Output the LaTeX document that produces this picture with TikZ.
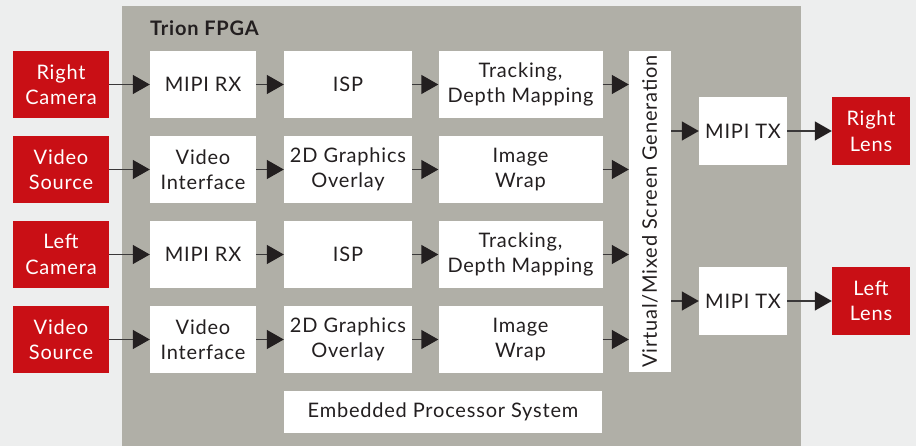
\documentclass[tikz,border=0pt]{standalone}
\usepackage{fontspec}
\setmainfont{Lato}[LetterSpace=4]
\usetikzlibrary{arrows.meta}
\definecolor{pagebg}{HTML}{EDEEEE}
\definecolor{fpga}{HTML}{B0AFA7}
\definecolor{ioRed}{HTML}{C90F15}
\definecolor{ink}{HTML}{231F20}
\definecolor{wire}{HTML}{3A3839}
\tikzset{
  blk/.style={fill=white, draw=none, align=center, inner sep=0pt,
    font=\fontsize{20}{25.5}\selectfont, text=ink},
  io/.style={fill=ioRed, draw=none, align=center, inner sep=0pt,
    font=\fontsize{20}{25.5}\selectfont, text=white,
    minimum width=96pt, minimum height=67pt},
  flow/.style={draw=wire, line width=1.4pt,
    -{Triangle[length=17pt,width=19pt,fill=ink,color=ink]}},
}
\begin{document}
\begin{tikzpicture}[x=1pt,y=-1pt]
  % canvas and FPGA region
  \fill[pagebg] (0,0) rectangle (916,446);
  \useasboundingbox (0,0) rectangle (916,446);
  \fill[fpga] (122,6) rectangle (801,446);
  \node[anchor=base west, inner sep=0pt, font=\fontsize{20}{22}\selectfont\bfseries, text=ink] (title) at (150,36) {Trion FPGA};

  % four input rows
  \node[io] (in1) at (61,84.5) {Right\\Camera};
  \node[io] (in2) at (61,169.5) {Video\\Source};
  \node[io] (in3) at (61,254.5) {Left\\Camera};
  \node[io] (in4) at (61,339.5) {Video\\Source};

  \node[blk, minimum width=106pt, minimum height=67pt] (a1) at (203,84.5) {MIPI RX};
  \node[blk, minimum width=106pt, minimum height=67pt] (a2) at (203,169.5) {Video\\Interface};
  \node[blk, minimum width=106pt, minimum height=67pt] (a3) at (203,254.5) {MIPI RX};
  \node[blk, minimum width=106pt, minimum height=67pt] (a4) at (203,339.5) {Video\\Interface};

  \node[blk, minimum width=128pt, minimum height=67pt] (b1) at (348,84.5) {ISP};
  \node[blk, minimum width=128pt, minimum height=67pt] (b2) at (348,169.5) {2D Graphics\\Overlay};
  \node[blk, minimum width=128pt, minimum height=67pt] (b3) at (348,254.5) {ISP};
  \node[blk, minimum width=128pt, minimum height=67pt] (b4) at (348,339.5) {2D Graphics\\Overlay};

  \node[blk, minimum width=164pt, minimum height=67pt] (c1) at (520.5,84.5) {Tracking,\\Depth Mapping};
  \node[blk, minimum width=164pt, minimum height=67pt] (c2) at (520.5,169.5) {Image\\Wrap};
  \node[blk, minimum width=164pt, minimum height=67pt] (c3) at (520.5,254.5) {Tracking,\\Depth Mapping};
  \node[blk, minimum width=164pt, minimum height=67pt] (c4) at (520.5,339.5) {Image\\Wrap};

  % screen generation column
  \node[blk, minimum width=42pt, minimum height=321pt] (vs) at (650,211.5) {};
  \node[rotate=90, font=\fontsize{20}{22}\selectfont, text=ink, inner sep=0pt] (vslabel) at (vs.center) {Virtual/Mixed Screen Generation};

  % outputs
  \node[blk, minimum width=88pt, minimum height=68pt] (tx1) at (743,131) {MIPI TX};
  \node[blk, minimum width=88pt, minimum height=68pt] (tx2) at (743,301) {MIPI TX};
  \node[io, minimum width=78pt, minimum height=68pt] (out1) at (871,131) {Right\\Lens};
  \node[io, minimum width=78pt, minimum height=68pt] (out2) at (871,301) {Left\\Lens};

  \node[blk, minimum width=318pt, minimum height=42pt] (eps) at (443,412) {Embedded Processor System};

  % data flow
  \foreach \i in {1,2,3,4} {
    \draw[flow] (in\i.east) -- (a\i.west);
    \draw[flow] (a\i.east) -- (b\i.west);
    \draw[flow] (b\i.east) -- (c\i.west);
    \draw[flow] (c\i.east) -- (c\i.east -| vs.west);
  }
  \draw[flow] (tx1.west -| vs.east) -- (tx1.west);
  \draw[flow] (tx2.west -| vs.east) -- (tx2.west);
  \draw[flow] (tx1.east) -- (out1.west);
  \draw[flow] (tx2.east) -- (out2.west);
\end{tikzpicture}
\end{document}
